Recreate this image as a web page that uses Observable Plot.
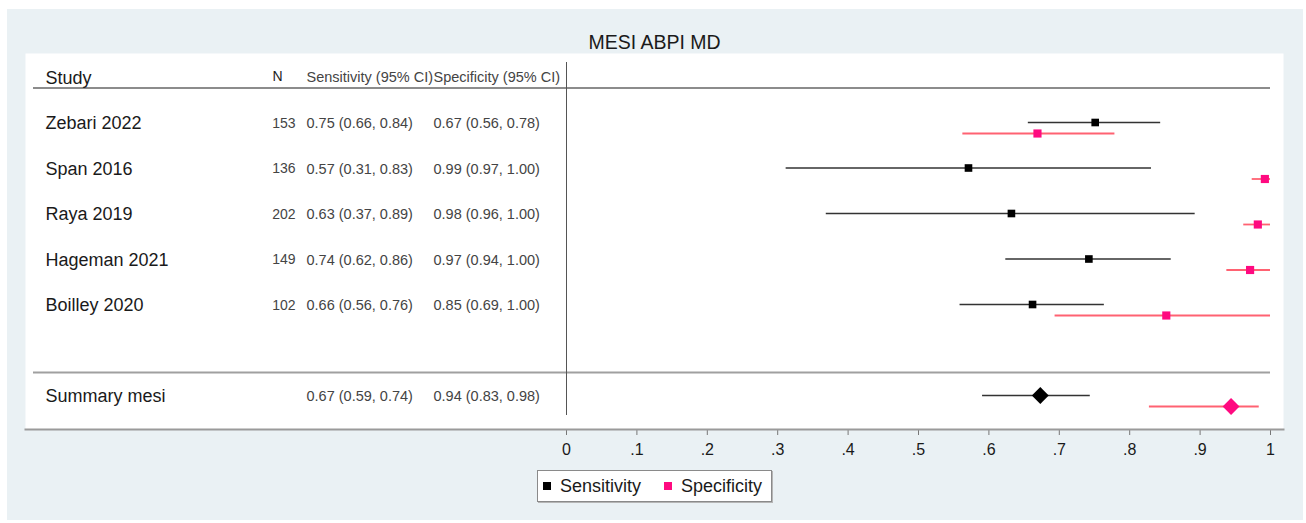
<!DOCTYPE html>
<html><head><meta charset="utf-8">
<script src="https://cdn.jsdelivr.net/npm/d3@7"></script>
<script src="https://cdn.jsdelivr.net/npm/@observablehq/plot@0.6"></script>
<style>
html,body{margin:0;padding:0;background:#fff;}
#wrap{position:relative;width:1306px;height:523px;font-family:Arial,"Liberation Sans",sans-serif;overflow:hidden;}
#bg{position:absolute;left:7px;top:9px;width:1296px;height:511px;background:#eaf1f4;}
#chart{position:absolute;left:0;top:0;}
#legend{position:absolute;left:537px;top:470px;width:235px;height:32px;background:#fff;border:1px solid #8a8a8a;box-shadow:1px 1px 0 #b5b5b5;display:flex;align-items:center;font-size:18px;color:#1a1a1a;box-sizing:border-box;}
#legend .item{display:flex;align-items:center;}
#legend .item:first-child{margin-left:5px;}
#legend .item + .item{margin-left:23px;}
#legend .sw{width:8px;height:8px;margin-right:9px;}
#chart svg [aria-label="x-axis tick"]{stroke:#777;}
</style></head>
<body><div id="wrap"><div id="bg"></div><div id="chart"></div><div id="legend"></div></div>
<script>
const title = "MESI ABPI MD";
const headers = ["Study", "N", "Sensitivity (95% CI)", "Specificity (95% CI)"];
const studies = ["Zebari 2022", "Span 2016", "Raya 2019", "Hageman 2021", "Boilley 2020"];
const nValues = [153, 136, 202, 149, 102];
const sensEst = [0.751, 0.571, 0.632, 0.742, 0.662];
const sensLo  = [0.656, 0.312, 0.369, 0.624, 0.559];
const sensHi  = [0.844, 0.831, 0.893, 0.859, 0.764];
const specEst = [0.669, 0.992, 0.982, 0.971, 0.852];
const specLo  = [0.563, 0.974, 0.962, 0.938, 0.694];
const specHi  = [0.779, 1.000, 1.000, 1.000, 1.000];
const summaryLabel = "Summary mesi";
const summarySens = [0.673, 0.591, 0.744];
const summarySpec = [0.944, 0.828, 0.984];
const tickValues = [0, 0.1, 0.2, 0.3, 0.4, 0.5, 0.6, 0.7, 0.8, 0.9, 1];
const tickLabels = ["0", ".1", ".2", ".3", ".4", ".5", ".6", ".7", ".8", ".9", "1"];
const seriesNames = ["Sensitivity", "Specificity"];
const seriesColors = ["#000000", "#ff0a80"];
const ciColors = ["#333333", "#ff6272"];

const fmt = v => v.toFixed(2);
const ci = (e, l, h) => `${fmt(e)} (${fmt(l)}, ${fmt(h)})`;

const headerRow = [{row: -1, study: headers[0], n: headers[1], sens: headers[2], spec: headers[3]}];
const rows = studies.map((s, i) => ({
  row: i, study: s, n: String(nValues[i]),
  se: sensEst[i], sl: sensLo[i], sh: sensHi[i],
  pe: specEst[i], pl: specLo[i], ph: specHi[i],
  sens: ci(sensEst[i], sensLo[i], sensHi[i]),
  spec: ci(specEst[i], specLo[i], specHi[i])
}));
const summary = {
  row: studies.length + 1, study: summaryLabel, n: "",
  se: summarySens[0], sl: summarySens[1], sh: summarySens[2],
  pe: summarySpec[0], pl: summarySpec[1], ph: summarySpec[2],
  sens: ci(...summarySens), spec: ci(...summarySpec)
};
const all = [...rows, summary];
const font = 'Arial, "Liberation Sans", sans-serif';

const chart = Plot.plot({
  width: 1306, height: 523,
  marginTop: 53, marginBottom: 94, marginLeft: 25, marginRight: 23,
  x: {domain: [0, 1], range: [566, 1270], ticks: tickValues,
      tickFormat: d => tickLabels[tickValues.indexOf(d)], tickSize: 6, tickPadding: 8, label: null},
  y: {domain: [-1, studies.length + 1], range: [76.5, 395], axis: null},
  style: {fontFamily: font, fontSize: "16px", background: "transparent", color: "#1a1a1a", overflow: "visible"},
  marks: [
    Plot.frame({fill: "#fff", stroke: null}),
    Plot.frame({anchor: "bottom", stroke: "#9a9a9a", strokeWidth: 2}),
    Plot.text([title], {text: d => d, frameAnchor: "top", lineAnchor: "middle", dy: -11, fontSize: 19.5, fill: "#1a1a1a"}),
    // separators
    Plot.ruleY(headerRow, {y: "row", dy: 11, insetLeft: 8, insetRight: 13, stroke: "#8c8c8c", strokeWidth: 2}),
    Plot.ruleY([summary], {y: "row", dy: -23, insetLeft: 8, insetRight: 13, stroke: "#a0a0a0", strokeWidth: 2}),
    Plot.ruleX([0], {insetTop: 9, insetBottom: 14, stroke: "#555", strokeWidth: 1}),
    // header
    Plot.text(headerRow, {y: "row", text: "study", frameAnchor: "left", dx: 20, dy: 1, textAnchor: "start", fontSize: 18, fill: "#1a1a1a"}),
    Plot.text(headerRow, {y: "row", text: "n", frameAnchor: "left", dx: 247, textAnchor: "start", fontSize: 14, fill: "#222"}),
    Plot.text(headerRow, {y: "row", text: "sens", frameAnchor: "left", dx: 281, textAnchor: "start", fontSize: 14.5, fill: "#444"}),
    Plot.text(headerRow, {y: "row", text: "spec", frameAnchor: "left", dx: 408, textAnchor: "start", fontSize: 14.5, fill: "#444"}),
    // table columns
    Plot.text(all, {y: "row", text: "study", frameAnchor: "left", dx: 20, dy: 1, textAnchor: "start", fontSize: 18, fill: "#1a1a1a"}),
    Plot.text(all, {y: "row", text: "n", frameAnchor: "left", dx: 270, dy: 1, textAnchor: "end", fontSize: 14, fill: "#444"}),
    Plot.text(all, {y: "row", text: "sens", frameAnchor: "left", dx: 281, dy: 1, textAnchor: "start", fontSize: 14.5, fill: "#444"}),
    Plot.text(all, {y: "row", text: "spec", frameAnchor: "left", dx: 408, dy: 1, textAnchor: "start", fontSize: 14.5, fill: "#444"}),
    // confidence intervals
    Plot.ruleY(all, {y: "row", x1: "sl", x2: "sh", stroke: ciColors[0], strokeWidth: 1.5}),
    Plot.ruleY(all, {y: "row", x1: "pl", x2: "ph", dy: 11, stroke: ciColors[1], strokeWidth: 1.8}),
    // point estimates
    Plot.dot(rows, {x: "se", y: "row", symbol: "square", r: 4.3, fill: seriesColors[0], stroke: null}),
    Plot.dot(rows, {x: "pe", y: "row", dy: 11, symbol: "square", r: 4.6, fill: seriesColors[1], stroke: null}),
    Plot.dot([summary], {x: "se", y: "row", symbol: "diamond2", r: 7.6, fill: seriesColors[0], stroke: null}),
    Plot.dot([summary], {x: "pe", y: "row", dy: 11, symbol: "diamond2", r: 7.6, fill: seriesColors[1], stroke: null})
  ]
});
document.getElementById("chart").appendChild(chart);

const legend = document.getElementById("legend");
seriesNames.forEach((name, i) => {
  const item = document.createElement("div");
  item.className = "item";
  const sw = document.createElement("span");
  sw.className = "sw";
  sw.style.background = seriesColors[i];
  const label = document.createElement("span");
  label.textContent = name;
  item.appendChild(sw);
  item.appendChild(label);
  legend.appendChild(item);
});
</script>
</body></html>
